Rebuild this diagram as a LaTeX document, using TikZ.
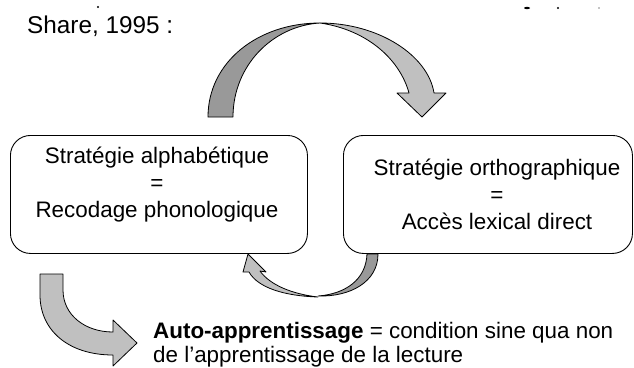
\documentclass[tikz,border=0pt]{standalone}
\usepackage{fontspec}
\setmainfont{Liberation Sans}
\definecolor{arrowdark}{HTML}{999999}
\definecolor{arrowlight}{HTML}{C0C0C0}
\begin{document}
\begin{tikzpicture}[x=1pt,y=-1pt,
  box/.style={draw, rounded corners=20pt, line width=0.9pt, anchor=north west, inner sep=0pt},
  txt/.style={font=\fontsize{22.4}{27}\selectfont, align=center, inner sep=0pt},
  line/.style={font=\fontsize{22.4}{27}\selectfont, anchor=base west, inner sep=0pt},
  dark/.style={fill=arrowdark, draw=black, line width=0.8pt, line join=round},
  light/.style={fill=arrowlight, draw=black, line width=0.8pt, line join=round}]
\useasboundingbox (0,0) rectangle (634,367);
% cut-off remnants of the line above
\fill (98,7) circle (1.1);
\fill (527,8) ellipse (3 and 1.2);
\fill (558,8) circle (1.1);
\fill (599,8) circle (0.7);
% title
\node[line, font=\fontsize{24.3}{28}\selectfont] (share) at (27,33) {Share, 1995 :};
% boxes
\node[box, minimum width=297pt, minimum height=118pt] (lbox) at (10,135) {};
\node[box, minimum width=289pt, minimum height=118pt] (rbox) at (343,135) {};
\node[txt] (ltext) at (157,185) {Stratégie alphabétique\\=\\Recodage phonologique};
\node[txt] (rtext) at (497,194) {Stratégie orthographique\\=\\Accès lexical direct};
% top curved arrow (twisted ribbon)
\filldraw[dark] (208,117) .. controls (208,62) and (258,23) .. (320,23)
  .. controls (272,26) and (233,66) .. (233,117) -- cycle;
\filldraw[light] (320,23) .. controls (378,23) and (428,55) .. (434,93)
  -- (446,93) -- (422,117) -- (397,93) -- (409,93)
  .. controls (400,60) and (368,30) .. (320,23) -- cycle;
% bottom middle curved arrow
\filldraw[dark] (318,296) .. controls (345,294) and (366,280) .. (367,254)
  -- (378,254) .. controls (378,282) and (350,297) .. (318,296) -- cycle;
\filldraw[light] (318,297) .. controls (285,296) and (258,288) .. (249,272)
  -- (243,272) -- (248,254) -- (266,272) -- (260,271)
  .. controls (270,285) and (292,294) .. (318,297) -- cycle;
% bottom left curved arrow
\filldraw[light] (40,274) -- (63,274) -- (63,290)
  .. controls (63,315) and (85,332) .. (113,332) -- (113,320) -- (137,343)
  -- (113,366) -- (113,355) .. controls (68,355) and (40,330) .. (40,295) -- cycle;
% bottom text
\node[line] (auto1) at (153,338) {\textbf{Auto-apprentissage} = condition sine qua non};
\node[line] (auto2) at (153,362) {de l’apprentissage de la lecture};
\end{tikzpicture}
\end{document}
